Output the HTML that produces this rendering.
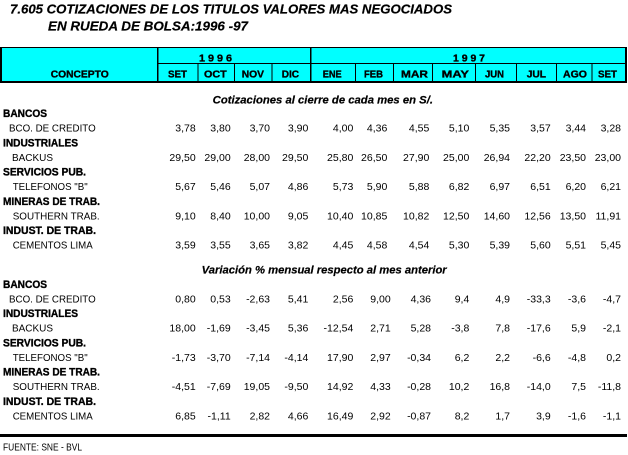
<!DOCTYPE html>
<html>
<head>
<meta charset="utf-8">
<style>
  html,body{margin:0;padding:0;background:#fff;}
  svg{display:block;}
  .t{font-family:"Liberation Sans",Arial,sans-serif;font-weight:bold;font-style:italic;font-size:13px;fill:#000;stroke:#000;stroke-width:0.2px;}
  .h{font-family:"Liberation Sans",Arial,sans-serif;font-weight:bold;font-size:10.5px;fill:#000;stroke:#000;stroke-width:0.35px;}
  .s{font-family:"Liberation Sans",Arial,sans-serif;font-weight:bold;font-style:italic;font-size:11px;fill:#000;stroke:#000;stroke-width:0.2px;}
  .c{font-family:"Liberation Sans",Arial,sans-serif;font-weight:bold;font-size:11px;fill:#000;stroke:#000;stroke-width:0.35px;}
  .l{font-family:"Liberation Sans",Arial,sans-serif;font-size:10.5px;fill:#000;}
  .d{font-family:"Liberation Sans",Arial,sans-serif;font-size:10.5px;fill:#000;text-anchor:end;}
</style>
</head>
<body>
<svg width="628" height="455" viewBox="0 0 628 455" xmlns="http://www.w3.org/2000/svg">
  <text class="t" x="10" y="13.5" textLength="442" lengthAdjust="spacingAndGlyphs">7.605 COTIZACIONES DE LOS TITULOS VALORES MAS NEGOCIADOS</text>
  <text class="t" x="48" y="30.5" textLength="200" lengthAdjust="spacingAndGlyphs">EN RUEDA DE BOLSA:1996 -97</text>

  <rect x="0" y="47" width="627" height="36" fill="#00FFFF"/>
  <rect x="0" y="47" width="627" height="1" fill="#000"/>
  <rect x="0" y="81" width="627" height="2" fill="#000"/>
  <rect x="0" y="47" width="2" height="36" fill="#000"/>
  <rect x="625" y="47" width="2" height="36" fill="#000"/>
  <rect x="157" y="47" width="1.5" height="36" fill="#000"/>
  <rect x="310" y="47" width="1.5" height="36" fill="#000"/>
  <rect x="158" y="63" width="468" height="1" fill="#000"/>
  <g fill="#000">
    <rect x="197.5" y="64" width="1" height="17"/>
    <rect x="234" y="64" width="1" height="17"/>
    <rect x="271.5" y="64" width="1" height="17"/>
    <rect x="355" y="64" width="1" height="17"/>
    <rect x="393" y="64" width="1" height="17"/>
    <rect x="432" y="64" width="1" height="17"/>
    <rect x="475" y="64" width="1" height="17"/>
    <rect x="516" y="64" width="1" height="17"/>
    <rect x="556" y="64" width="1" height="17"/>
    <rect x="591.5" y="64" width="1" height="17"/>
  </g>
  <text class="h" x="199" y="61.5" textLength="33" lengthAdjust="spacingAndGlyphs">1 9 9 6</text>
  <text class="h" x="453" y="61.5" textLength="32" lengthAdjust="spacingAndGlyphs">1 9 9 7</text>
  <text class="h" x="50.7" y="77.5" textLength="58" lengthAdjust="spacingAndGlyphs">CONCEPTO</text>
  <text class="h" x="168" y="77.5" textLength="19" lengthAdjust="spacingAndGlyphs">SET</text>
  <text class="h" x="204" y="77.5" textLength="22.7" lengthAdjust="spacingAndGlyphs">OCT</text>
  <text class="h" x="241.7" y="77.5" textLength="22.3" lengthAdjust="spacingAndGlyphs">NOV</text>
  <text class="h" x="281.7" y="77.5" textLength="17.3" lengthAdjust="spacingAndGlyphs">DIC</text>
  <text class="h" x="322.7" y="77.5" textLength="19" lengthAdjust="spacingAndGlyphs">ENE</text>
  <text class="h" x="364" y="77.5" textLength="19" lengthAdjust="spacingAndGlyphs">FEB</text>
  <text class="h" x="401" y="77.5" textLength="27" lengthAdjust="spacingAndGlyphs">MAR</text>
  <text class="h" x="441.7" y="77.5" textLength="27.3" lengthAdjust="spacingAndGlyphs">MAY</text>
  <text class="h" x="485" y="77.5" textLength="19" lengthAdjust="spacingAndGlyphs">JUN</text>
  <text class="h" x="526.7" y="77.5" textLength="19.3" lengthAdjust="spacingAndGlyphs">JUL</text>
  <text class="h" x="563" y="77.5" textLength="24" lengthAdjust="spacingAndGlyphs">AGO</text>
  <text class="h" x="598" y="77.5" textLength="19" lengthAdjust="spacingAndGlyphs">SET</text>

  <text class="s" x="212.7" y="103.5" textLength="220.3" lengthAdjust="spacingAndGlyphs">Cotizaciones al cierre de cada mes en S/.</text>

  <text class="c" x="3" y="117" textLength="44" lengthAdjust="spacingAndGlyphs">BANCOS</text>
  <text class="l" x="9" y="131.6" textLength="86.7" lengthAdjust="spacingAndGlyphs">BCO. DE CREDITO</text>
  <text class="c" x="3" y="146.3" textLength="75" lengthAdjust="spacingAndGlyphs">INDUSTRIALES</text>
  <text class="l" x="12" y="160.9" textLength="41" lengthAdjust="spacingAndGlyphs">BACKUS</text>
  <text class="c" x="3" y="175.5" textLength="83" lengthAdjust="spacingAndGlyphs">SERVICIOS PUB.</text>
  <text class="l" x="12.7" y="190.2" textLength="75" lengthAdjust="spacingAndGlyphs">TELEFONOS "B"</text>
  <text class="c" x="3" y="204.8" textLength="97" lengthAdjust="spacingAndGlyphs">MINERAS DE TRAB.</text>
  <text class="l" x="12.7" y="219.4" textLength="87" lengthAdjust="spacingAndGlyphs">SOUTHERN TRAB.</text>
  <text class="c" x="3" y="234" textLength="93" lengthAdjust="spacingAndGlyphs">INDUST. DE TRAB.</text>
  <text class="l" x="12.7" y="248.7" textLength="80" lengthAdjust="spacingAndGlyphs">CEMENTOS LIMA</text>

  <g>
    <text class="d" x="195.7" y="131.6">3,78</text>
    <text class="d" x="230.7" y="131.6">3,80</text>
    <text class="d" x="270" y="131.6">3,70</text>
    <text class="d" x="308.3" y="131.6">3,90</text>
    <text class="d" x="353.3" y="131.6">4,00</text>
    <text class="d" x="387.3" y="131.6">4,36</text>
    <text class="d" x="429.3" y="131.6">4,55</text>
    <text class="d" x="469.3" y="131.6">5,10</text>
    <text class="d" x="510" y="131.6">5,35</text>
    <text class="d" x="550.7" y="131.6">3,57</text>
    <text class="d" x="586" y="131.6">3,44</text>
    <text class="d" x="621" y="131.6">3,28</text>

    <text class="d" x="195.7" y="160.9">29,50</text>
    <text class="d" x="230.7" y="160.9">29,00</text>
    <text class="d" x="270" y="160.9">28,00</text>
    <text class="d" x="308.3" y="160.9">29,50</text>
    <text class="d" x="353.3" y="160.9">25,80</text>
    <text class="d" x="387.3" y="160.9">26,50</text>
    <text class="d" x="429.3" y="160.9">27,90</text>
    <text class="d" x="469.3" y="160.9">25,00</text>
    <text class="d" x="510" y="160.9">26,94</text>
    <text class="d" x="550.7" y="160.9">22,20</text>
    <text class="d" x="586" y="160.9">23,50</text>
    <text class="d" x="621" y="160.9">23,00</text>

    <text class="d" x="195.7" y="190.2">5,67</text>
    <text class="d" x="230.7" y="190.2">5,46</text>
    <text class="d" x="270" y="190.2">5,07</text>
    <text class="d" x="308.3" y="190.2">4,86</text>
    <text class="d" x="353.3" y="190.2">5,73</text>
    <text class="d" x="387.3" y="190.2">5,90</text>
    <text class="d" x="429.3" y="190.2">5,88</text>
    <text class="d" x="469.3" y="190.2">6,82</text>
    <text class="d" x="510" y="190.2">6,97</text>
    <text class="d" x="550.7" y="190.2">6,51</text>
    <text class="d" x="586" y="190.2">6,20</text>
    <text class="d" x="621" y="190.2">6,21</text>

    <text class="d" x="195.7" y="219.4">9,10</text>
    <text class="d" x="230.7" y="219.4">8,40</text>
    <text class="d" x="270" y="219.4">10,00</text>
    <text class="d" x="308.3" y="219.4">9,05</text>
    <text class="d" x="353.3" y="219.4">10,40</text>
    <text class="d" x="387.3" y="219.4">10,85</text>
    <text class="d" x="429.3" y="219.4">10,82</text>
    <text class="d" x="469.3" y="219.4">12,50</text>
    <text class="d" x="510" y="219.4">14,60</text>
    <text class="d" x="550.7" y="219.4">12,56</text>
    <text class="d" x="586" y="219.4">13,50</text>
    <text class="d" x="621" y="219.4">11,91</text>

    <text class="d" x="195.7" y="248.7">3,59</text>
    <text class="d" x="230.7" y="248.7">3,55</text>
    <text class="d" x="270" y="248.7">3,65</text>
    <text class="d" x="308.3" y="248.7">3,82</text>
    <text class="d" x="353.3" y="248.7">4,45</text>
    <text class="d" x="387.3" y="248.7">4,58</text>
    <text class="d" x="429.3" y="248.7">4,54</text>
    <text class="d" x="469.3" y="248.7">5,30</text>
    <text class="d" x="510" y="248.7">5,39</text>
    <text class="d" x="550.7" y="248.7">5,60</text>
    <text class="d" x="586" y="248.7">5,51</text>
    <text class="d" x="621" y="248.7">5,45</text>
  </g>

  <text class="s" x="201.7" y="273.5" textLength="245" lengthAdjust="spacingAndGlyphs">Variación % mensual respecto al mes anterior</text>

  <text class="c" x="3" y="287.8" textLength="44" lengthAdjust="spacingAndGlyphs">BANCOS</text>
  <text class="l" x="9" y="302.4" textLength="86.7" lengthAdjust="spacingAndGlyphs">BCO. DE CREDITO</text>
  <text class="c" x="3" y="317.1" textLength="75" lengthAdjust="spacingAndGlyphs">INDUSTRIALES</text>
  <text class="l" x="12" y="331.7" textLength="41" lengthAdjust="spacingAndGlyphs">BACKUS</text>
  <text class="c" x="3" y="346.3" textLength="83" lengthAdjust="spacingAndGlyphs">SERVICIOS PUB.</text>
  <text class="l" x="12.7" y="361" textLength="75" lengthAdjust="spacingAndGlyphs">TELEFONOS "B"</text>
  <text class="c" x="3" y="375.6" textLength="97" lengthAdjust="spacingAndGlyphs">MINERAS DE TRAB.</text>
  <text class="l" x="12.7" y="390.2" textLength="87" lengthAdjust="spacingAndGlyphs">SOUTHERN TRAB.</text>
  <text class="c" x="3" y="404.8" textLength="93" lengthAdjust="spacingAndGlyphs">INDUST. DE TRAB.</text>
  <text class="l" x="12.7" y="419.5" textLength="80" lengthAdjust="spacingAndGlyphs">CEMENTOS LIMA</text>

  <g>
    <text class="d" x="195.7" y="302.4">0,80</text>
    <text class="d" x="230.7" y="302.4">0,53</text>
    <text class="d" x="270" y="302.4">-2,63</text>
    <text class="d" x="308.3" y="302.4">5,41</text>
    <text class="d" x="353.3" y="302.4">2,56</text>
    <text class="d" x="390.7" y="302.4">9,00</text>
    <text class="d" x="431" y="302.4">4,36</text>
    <text class="d" x="469.3" y="302.4">9,4</text>
    <text class="d" x="510" y="302.4">4,9</text>
    <text class="d" x="550.7" y="302.4">-33,3</text>
    <text class="d" x="586" y="302.4">-3,6</text>
    <text class="d" x="621" y="302.4">-4,7</text>

    <text class="d" x="195.7" y="331.7">18,00</text>
    <text class="d" x="230.7" y="331.7">-1,69</text>
    <text class="d" x="270" y="331.7">-3,45</text>
    <text class="d" x="308.3" y="331.7">5,36</text>
    <text class="d" x="353.3" y="331.7">-12,54</text>
    <text class="d" x="390.7" y="331.7">2,71</text>
    <text class="d" x="431" y="331.7">5,28</text>
    <text class="d" x="469.3" y="331.7">-3,8</text>
    <text class="d" x="510" y="331.7">7,8</text>
    <text class="d" x="550.7" y="331.7">-17,6</text>
    <text class="d" x="586" y="331.7">5,9</text>
    <text class="d" x="621" y="331.7">-2,1</text>

    <text class="d" x="195.7" y="361">-1,73</text>
    <text class="d" x="230.7" y="361">-3,70</text>
    <text class="d" x="270" y="361">-7,14</text>
    <text class="d" x="308.3" y="361">-4,14</text>
    <text class="d" x="353.3" y="361">17,90</text>
    <text class="d" x="390.7" y="361">2,97</text>
    <text class="d" x="431" y="361">-0,34</text>
    <text class="d" x="469.3" y="361">6,2</text>
    <text class="d" x="510" y="361">2,2</text>
    <text class="d" x="550.7" y="361">-6,6</text>
    <text class="d" x="586" y="361">-4,8</text>
    <text class="d" x="621" y="361">0,2</text>

    <text class="d" x="195.7" y="390.2">-4,51</text>
    <text class="d" x="230.7" y="390.2">-7,69</text>
    <text class="d" x="270" y="390.2">19,05</text>
    <text class="d" x="308.3" y="390.2">-9,50</text>
    <text class="d" x="353.3" y="390.2">14,92</text>
    <text class="d" x="390.7" y="390.2">4,33</text>
    <text class="d" x="431" y="390.2">-0,28</text>
    <text class="d" x="469.3" y="390.2">10,2</text>
    <text class="d" x="510" y="390.2">16,8</text>
    <text class="d" x="550.7" y="390.2">-14,0</text>
    <text class="d" x="586" y="390.2">7,5</text>
    <text class="d" x="621" y="390.2">-11,8</text>

    <text class="d" x="195.7" y="419.5">6,85</text>
    <text class="d" x="230.7" y="419.5">-1,11</text>
    <text class="d" x="270" y="419.5">2,82</text>
    <text class="d" x="308.3" y="419.5">4,66</text>
    <text class="d" x="353.3" y="419.5">16,49</text>
    <text class="d" x="390.7" y="419.5">2,92</text>
    <text class="d" x="431" y="419.5">-0,87</text>
    <text class="d" x="469.3" y="419.5">8,2</text>
    <text class="d" x="510" y="419.5">1,7</text>
    <text class="d" x="550.7" y="419.5">3,9</text>
    <text class="d" x="586" y="419.5">-1,6</text>
    <text class="d" x="621" y="419.5">-1,1</text>
  </g>

  <rect x="0" y="434" width="627" height="3" fill="#000"/>

  <text class="l" x="3" y="450.5" textLength="79" lengthAdjust="spacingAndGlyphs">FUENTE: SNE - BVL</text>
</svg>
</body>
</html>
